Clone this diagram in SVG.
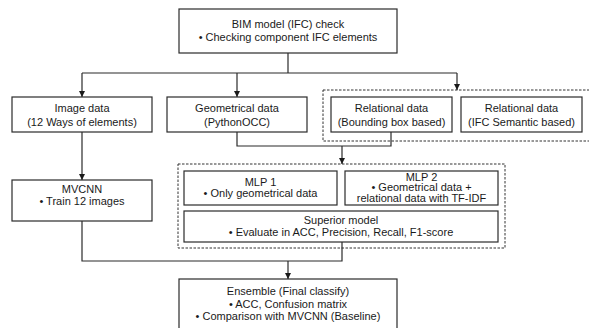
<svg xmlns="http://www.w3.org/2000/svg" width="589" height="328" viewBox="0 0 589 328">
<style>
.box{fill:#fff;stroke:#2b2b2b;stroke-width:1.2}
.grp{fill:none;stroke:#333;stroke-width:1;stroke-dasharray:2.5,1.5}
.ln{fill:none;stroke:#2b2b2b;stroke-width:1.2}
text{font-family:"Liberation Sans",Arial,sans-serif;font-size:11px;fill:#1a1a1a;text-anchor:middle}
</style>
<defs>
<marker id="arr" markerUnits="userSpaceOnUse" markerWidth="6" markerHeight="6" refX="6" refY="3" orient="auto" viewBox="0 0 6 6">
<path d="M0,0 L6,3 L0,6 z" fill="#1a1a1a"/>
</marker>
</defs>
<rect width="589" height="328" fill="#fff"/>
<g id="groups">
<rect id="relational-group" class="grp" x="323" y="90" width="268" height="51"/>
<rect id="mlp-group" class="grp" x="178" y="164" width="327" height="84"/>
</g>
<g id="connectors">
<path class="ln" d="M288,53 V73"/>
<path class="ln" d="M82,73 H457"/>
<path class="ln" d="M82,73 V97" marker-end="url(#arr)"/>
<path class="ln" d="M237,73 V97" marker-end="url(#arr)"/>
<path class="ln" d="M457,73 V90" marker-end="url(#arr)"/>
<path class="ln" d="M82,132 V180" marker-end="url(#arr)"/>
<path class="ln" d="M237,132 V146 H391 V132"/>
<path class="ln" d="M342,146 V164" marker-end="url(#arr)"/>
<path class="ln" d="M82,221 V261 H342 V242"/>
<path class="ln" d="M288,261 V279" marker-end="url(#arr)"/>
</g>
<g id="bim-check">
<rect class="box" x="179" y="9" width="218" height="44"/>
<text x="288" y="28">BIM model (IFC) check</text>
<text x="288" y="41">•  Checking component IFC elements</text>
</g>
<g id="image-data">
<rect class="box" x="12" y="97" width="140" height="35"/>
<text x="82" y="111.5">Image data</text>
<text x="82" y="125.5">(12 Ways of elements)</text>
</g>
<g id="geometrical-data">
<rect class="box" x="167" y="97" width="140" height="35"/>
<text x="237" y="111.5">Geometrical data</text>
<text x="237" y="125.5">(PythonOCC)</text>
</g>
<g id="relational-bbox">
<rect class="box" x="331" y="97" width="121" height="35"/>
<text x="391.5" y="111.5">Relational data</text>
<text x="391.5" y="125.5">(Bounding box based)</text>
</g>
<g id="relational-semantic">
<rect class="box" x="461" y="97" width="121" height="35"/>
<text x="521.5" y="111.5">Relational data</text>
<text x="521.5" y="125.5">(IFC Semantic based)</text>
</g>
<g id="mvcnn">
<rect class="box" x="12" y="180" width="140" height="41"/>
<text x="82" y="193">MVCNN</text>
<text x="82" y="205">•  Train 12 images</text>
</g>
<g id="mlp1">
<rect class="box" x="184" y="171" width="153" height="34"/>
<text x="260.5" y="185.5">MLP 1</text>
<text x="260.5" y="196.5">•  Only geometrical data</text>
</g>
<g id="mlp2">
<rect class="box" x="345" y="171" width="153" height="34"/>
<text x="421.5" y="180.5">MLP 2</text>
<text x="421.5" y="191">•  Geometrical data +</text>
<text x="421.5" y="201.5">relational data with TF-IDF</text>
</g>
<g id="superior">
<rect class="box" x="184" y="211" width="314" height="31"/>
<text x="341" y="223.5">Superior model</text>
<text x="341" y="236">•  Evaluate in ACC, Precision, Recall, F1-score</text>
</g>
<g id="ensemble">
<rect class="box" x="179" y="279" width="218" height="52"/>
<text x="288" y="295">Ensemble (Final classify)</text>
<text x="288" y="307.5">•  ACC, Confusion matrix</text>
<text x="288" y="320">•  Comparison with MVCNN (Baseline)</text>
</g>
</svg>
